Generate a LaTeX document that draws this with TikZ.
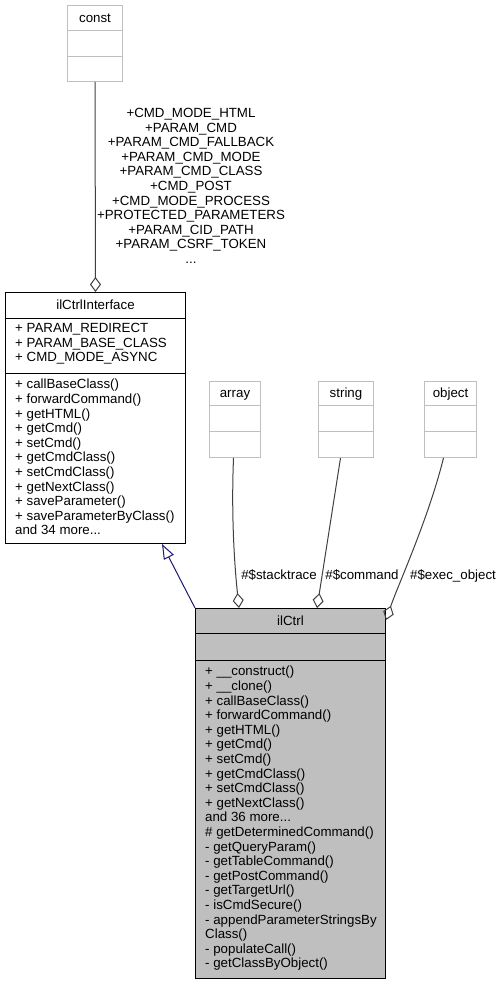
\documentclass[tikz,border=0pt]{standalone}
\usepackage{fontspec}
\setmainfont{Liberation Sans}
\usetikzlibrary{arrows.meta}
\definecolor{boxgray}{HTML}{BFBFBF}
\definecolor{edgegray}{HTML}{404040}
\definecolor{inhblue}{HTML}{191970}

\begin{document}
\begin{tikzpicture}[x=1pt,y=-1pt,
  every node/.style={font=\fontsize{13.3}{14.6}\selectfont,inner sep=0pt},
  frame/.style={draw,anchor=north west,line width=1pt},
  title/.style={text height=9.5pt,text depth=0pt},
  member/.style={anchor=north west,align=left},
  agg/.style={draw=edgegray,line width=1pt,-{Diamond[open,length=15pt,width=11pt]}},
  inh/.style={draw=inhblue,line width=1pt,-{Triangle[open,length=15pt,width=11pt]}}]

\useasboundingbox (0,0) rectangle (502,984);

% the plain type boxes
\node[frame,draw=boxgray,minimum width=55pt,minimum height=76pt] (const) at (67,5) {};
\foreach \n/\x/\w in {array/209/51,string/318/55,object/424/52}
{
\node[frame,draw=boxgray,minimum width=\w pt,minimum height=76pt] (\n) at (\x,381) {};
\node[title] (\n T) at ([yshift=-12pt]\n.north) {\n};
\draw[boxgray,line width=1pt] ([yshift=-24pt]\n.north west) -- ([yshift=-24pt]\n.north east);
\draw[boxgray,line width=1pt] ([yshift=-50pt]\n.north west) -- ([yshift=-50pt]\n.north east);
}
\node[title] (constT) at ([yshift=-13pt]const.north) {const};
\draw[boxgray,line width=1pt] ([yshift=-26pt]const.north west) -- ([yshift=-26pt]const.north east);
\draw[boxgray,line width=1pt] ([yshift=-52pt]const.north west) -- ([yshift=-52pt]const.north east);

% ilCtrlInterface
\node[frame,minimum width=180pt,minimum height=251pt] (iface) at (5,292) {};
\node[title] (ifaceT) at ([yshift=-13pt]iface.north) {ilCtrlInterface};
\draw[line width=1pt] ([yshift=-26pt]iface.north west) -- ([yshift=-26pt]iface.north east);
\draw[line width=1pt] ([yshift=-81pt]iface.north west) -- ([yshift=-81pt]iface.north east);
\node[member] (ifaceAttr) at (15,323) {+ PARAM\_REDIRECT\\+ PARAM\_BASE\_CLASS\\+ CMD\_MODE\_ASYNC};
\node[member] (ifaceOps) at (15,379) {+ callBaseClass()\\+ forwardCommand()\\+ getHTML()\\+ getCmd()\\+ setCmd()\\+ getCmdClass()\\+ setCmdClass()\\+ getNextClass()\\+ saveParameter()\\+ saveParameterByClass()\\and 34 more...};

% ilCtrl
\node[frame,fill=boxgray,minimum width=190pt,minimum height=370pt] (ctrl) at (195,608) {};
\node[title] (ctrlT) at ([yshift=-13pt]ctrl.north) {ilCtrl};
\draw[line width=1pt] ([yshift=-25pt]ctrl.north west) -- ([yshift=-25pt]ctrl.north east);
\draw[line width=1pt] ([yshift=-52pt]ctrl.north west) -- ([yshift=-52pt]ctrl.north east);
\node[member] (ctrlOps) at (205,666) {+ \_\_construct()\\+ \_\_clone()\\+ callBaseClass()\\+ forwardCommand()\\+ getHTML()\\+ getCmd()\\+ setCmd()\\+ getCmdClass()\\+ setCmdClass()\\+ getNextClass()\\and 36 more...\\\# getDeterminedCommand()\\- getQueryParam()\\- getTableCommand()\\- getPostCommand()\\- getTargetUrl()\\- isCmdSecure()\\- appendParameterStringsBy\\Class()\\- populateCall()\\- getClassByObject()};

% connectors
\draw[agg] (const.south) -- (iface.north);
\node[anchor=north,align=center] (constLbl) at (191,108) {+CMD\_MODE\_HTML\\+PARAM\_CMD\\+PARAM\_CMD\_FALLBACK\\+PARAM\_CMD\_MODE\\+PARAM\_CMD\_CLASS\\+CMD\_POST\\+CMD\_MODE\_PROCESS\\+PROTECTED\_PARAMETERS\\+PARAM\_CID\_PATH\\+PARAM\_CSRF\_TOKEN\\...};

\draw[agg] ([xshift=-1.5pt]array.south) .. controls (231,520) and (235,570) .. ([xshift=44pt]ctrl.north west);
\draw[agg] ([xshift=-5.5pt]string.south) -- ([xshift=122pt]ctrl.north west);
\draw[agg] ([xshift=-7pt]object.south) .. controls (428,520) and (398,585) .. ([yshift=-12pt]ctrl.north east);
\node[title] (stackLbl) at (279,575) {\#\$stacktrace};
\node[title] (cmdLbl) at (362,575) {\#\$command};
\node[title] (execLbl) at (453,575) {\#\$exec\_object};

\draw[inh] (ctrl.north west) -- ([xshift=-24pt]iface.south east);
\end{tikzpicture}
\end{document}
